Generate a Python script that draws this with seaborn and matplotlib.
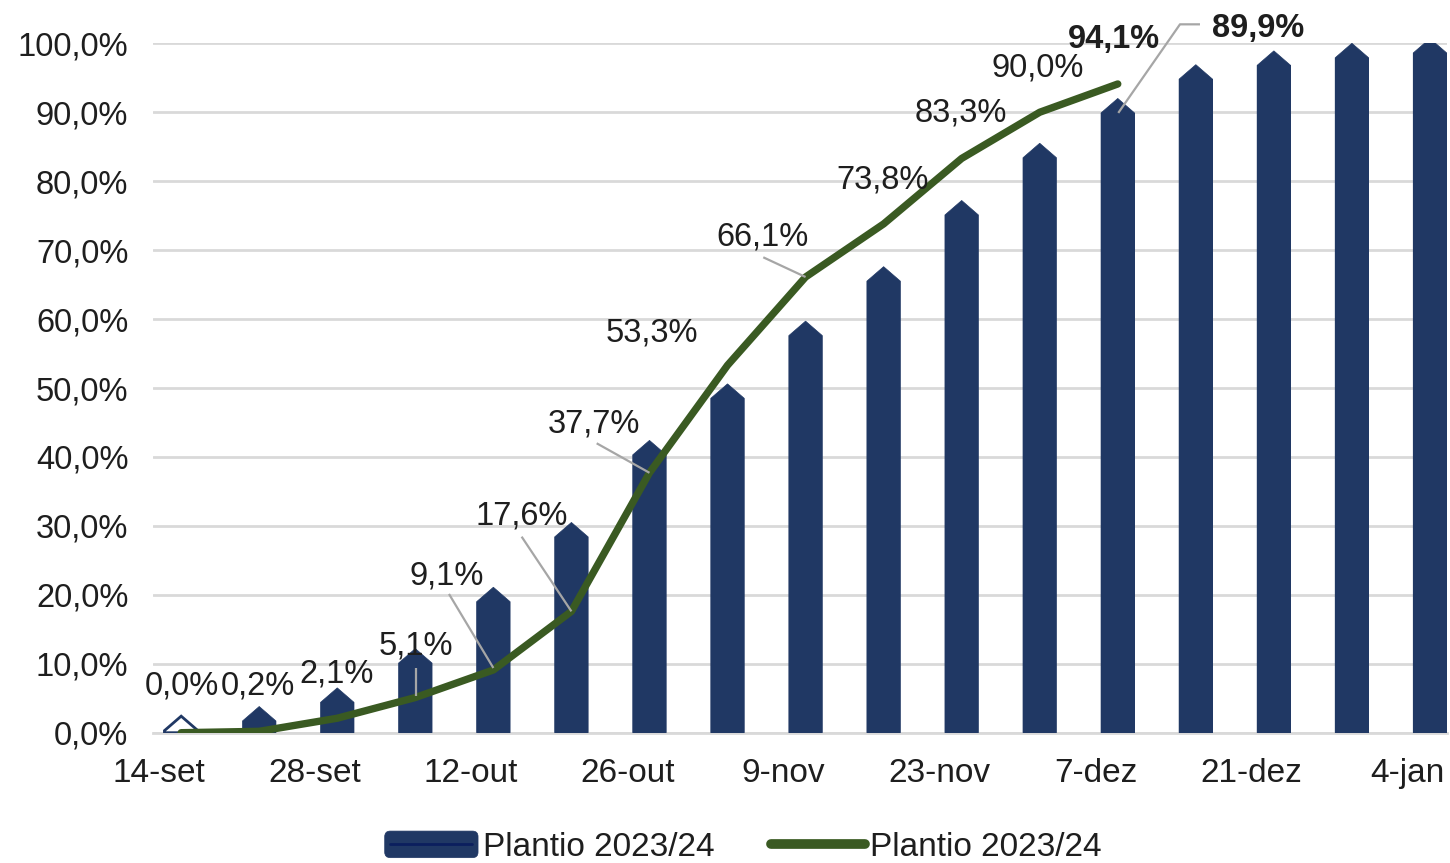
import numpy as np
import pandas as pd
import matplotlib
matplotlib.use("Agg")
import matplotlib.pyplot as plt
import seaborn as sns
from matplotlib.patches import Polygon, Rectangle, FancyBboxPatch
from matplotlib.lines import Line2D
from matplotlib.legend_handler import HandlerBase, HandlerLine2D
from matplotlib.ticker import FixedLocator, FuncFormatter
from matplotlib.transforms import Affine2D, ScaledTranslation

# ---------------- data ----------------
origin = "2023-09-14"
bar_dates = ["2023-09-16", "2023-09-23", "2023-09-30", "2023-10-07", "2023-10-14",
             "2023-10-21", "2023-10-28", "2023-11-04", "2023-11-11", "2023-11-18",
             "2023-11-25", "2023-12-02", "2023-12-09", "2023-12-16", "2023-12-23",
             "2023-12-30", "2024-01-06"]
bar_values = [0.3, 1.7, 4.4, 10.1, 19.0, 28.4, 40.3, 48.5, 57.6, 65.5,
              75.1, 83.4, 89.9, 94.8, 96.8, 97.9, 98.6]
line_values = [0.0, 0.2, 2.1, 5.1, 9.1, 17.6, 37.7, 53.3, 66.1, 73.8, 83.3, 90.0, 94.1]
tick_dates = ["2023-09-14", "2023-09-28", "2023-10-12", "2023-10-26", "2023-11-09",
              "2023-11-23", "2023-12-07", "2023-12-21", "2024-01-04"]
tick_labels = ["14-set", "28-set", "12-out", "26-out", "9-nov", "23-nov", "7-dez", "21-dez", "4-jan"]
series_label = "Plantio 2023/24"
bar_label_index = 12          # bar whose value is annotated (89,9%)
bold_line_labels = {12}       # last point of the line is emphasised

# ---------------- style ----------------
NAVY = "#203864"
NAVY_DARK = "#0B1F5E"
GREEN = "#3A5A22"
GRID = "#D9D9D9"
LEADER = "#A6A6A6"
TEXT = "#1E1E1E"

# label offsets in pixels (dx, dy of text baseline centre, y up)
label_offsets = [(1, 38.5), (-1, 36.5), (-1, 36), (1, 43.5), (-47, 85.5), (-49.5, 86.5),
                 (-55.5, 40.5), (-75.6, 23.5), (-43, 32), (-1, 35.7), (-1, 37), (-2, 35.5), (-4, 36)]
leaders = {3: [(1, 30), (1, 2)],
           4: [(-44.4, 76), (0, 2)],
           5: [(-49.8, 74.7), (0, 0)],
           6: [(-52.8, 29.5), (0, 0)],
           8: [(-42.3, 19.7), (0, 0)]}
bar_label_offset = (140, 75.5)
bar_leader = [(0.5, 0), (62.2, 88.6), (82.2, 88.6)]


def day_number(dates):
    return (pd.to_datetime(dates) - pd.Timestamp(origin)).days.to_numpy().astype(float)


def pct(v):
    return f"{v:.1f}%".replace(".", ",")


# bars and points sit in the middle of their day
bar_x = day_number(bar_dates) + 0.5
line_x = bar_x[:len(line_values)]
tick_x = day_number(tick_dates)

sns.set_style("white")
plt.rcParams["font.family"] = ["Liberation Sans", "DejaVu Sans"]

W, H = 1450, 863
fig = plt.figure(figsize=(W / 100, H / 100), dpi=100)
ax = fig.add_axes([153.3 / W, 1 - 732.7 / H, (1446.7 - 153.3) / W, (732.7 - 43.3) / H])

df_bars = pd.DataFrame({"day": bar_x, "pct": bar_values})
sns.barplot(data=df_bars, x="day", y="pct", native_scale=True, width=3 / 7,
            color=NAVY, saturation=1, errorbar=None, label=series_label,
            linewidth=0, ax=ax, zorder=2)

df_line = pd.DataFrame({"day": line_x, "pct": line_values})
sns.lineplot(data=df_line, x="day", y="pct", color=GREEN, linewidth=5.3,
             label=series_label, solid_capstyle="round", solid_joinstyle="round",
             ax=ax, zorder=4)

ax.set_xlim(0, 116)
ax.set_ylim(0, 100)

# pointed caps on top of the columns
CAP = 2.1
rects = [p for p in ax.patches if isinstance(p, Rectangle)]
for i, r in enumerate(rects):
    x0, w, h = r.get_x(), r.get_width(), r.get_height()
    hollow = h < 1.0
    poly = Polygon([(x0, 0), (x0, h), (x0 + w / 2, h + CAP), (x0 + w, h), (x0 + w, 0)],
                   closed=True, facecolor="white" if hollow else NAVY,
                   edgecolor=NAVY, linewidth=2 if hollow else 0.5, zorder=2)
    ax.add_patch(poly)
    if hollow:
        r.set_visible(False)

# axes cosmetics
ax.yaxis.set_major_locator(FixedLocator(np.arange(0, 101, 10)))
ax.yaxis.set_major_formatter(FuncFormatter(lambda v, _: pct(v)))
ax.yaxis.grid(True, color=GRID, linewidth=2)
ax.xaxis.grid(False)
ax.set_axisbelow(True)
for s in ("left", "top", "right"):
    ax.spines[s].set_visible(False)
ax.spines["bottom"].set_color(GRID)
ax.spines["bottom"].set_linewidth(2)
ax.spines["bottom"].set_zorder(1)

ax.set_xticks(tick_x + 0.5)
ax.set_xticklabels(tick_labels)
ax.set_xticks(tick_x, minor=True)
ax.tick_params(axis="x", which="major", length=0, pad=18, labelsize=24, labelcolor=TEXT)
ax.tick_params(axis="x", which="minor", length=5, width=2, color=GRID, direction="out")
ax.tick_params(axis="y", length=0, pad=18, labelsize=23.5, labelcolor=TEXT)
ax.set_xlabel("")
ax.set_ylabel("")


def leader(x, y, pts):
    tr = Affine2D() + ScaledTranslation(x, y, ax.transData)
    xs, ys = zip(*pts)
    ln = Line2D(xs, ys, color=LEADER, linewidth=1.6, transform=tr, zorder=3,
                solid_capstyle="butt")
    fig.add_artist(ln)


# line data labels
for i, (x, v) in enumerate(zip(line_x, line_values)):
    dx, dy = label_offsets[i]
    ax.annotate(pct(v), (x, v), xytext=(dx, dy), textcoords="offset pixels",
                ha="center", va="baseline", fontsize=23.5, color=TEXT,
                fontweight="bold" if i in bold_line_labels else "normal",
                zorder=6, annotation_clip=False)
    if i in leaders:
        leader(x, v, leaders[i])

# annotated column
bx, bv = bar_x[bar_label_index], bar_values[bar_label_index]
leader(bx, bv, bar_leader)
ax.annotate(pct(bv), (bx, bv), xytext=bar_label_offset, textcoords="offset pixels",
            ha="center", va="baseline", fontsize=23.5, color=TEXT, fontweight="bold",
            zorder=6, annotation_clip=False)


# legend
class ColumnKey(HandlerBase):
    def create_artists(self, legend, orig_handle, xdescent, ydescent, width, height,
                       fontsize, trans):
        r = 4
        box = FancyBboxPatch((-xdescent + r, -ydescent + r), width - 2 * r, height - 2 * r,
                             boxstyle=f"round,pad={r}", facecolor=NAVY, edgecolor=NAVY,
                             linewidth=0.5, transform=trans)
        mid = Line2D([-xdescent + 4, -xdescent + width - 4],
                     [-ydescent + height / 2] * 2, color=NAVY_DARK, linewidth=2,
                     transform=trans)
        return [box, mid]


def thick_line(legend_handle, orig_handle):
    legend_handle.update_from(orig_handle)
    legend_handle.set_linewidth(7)
    legend_handle.set_solid_capstyle("round")


handles, labels = ax.get_legend_handles_labels()
if ax.get_legend() is not None:
    ax.get_legend().remove()
# column series first, then the line
pairs = sorted(zip(handles, labels), key=lambda hl: isinstance(hl[0], Line2D))
handles = [h for h, _ in pairs]
labels = [l for _, l in pairs]
hmap = {}
for h in handles:
    if isinstance(h, Line2D):
        hmap[h] = HandlerLine2D(update_func=thick_line)
    else:
        hmap[h] = ColumnKey()
ax.legend(handles, labels, loc="center", bbox_to_anchor=(743 / W, 1 - 847 / H),
          bbox_transform=fig.transFigure, ncol=2, frameon=False, fontsize=24,
          handlelength=2.8, handleheight=0.85, handletextpad=0.15, columnspacing=1.7,
          labelcolor=TEXT, handler_map=hmap)

fig.savefig("out.png", dpi=100)
